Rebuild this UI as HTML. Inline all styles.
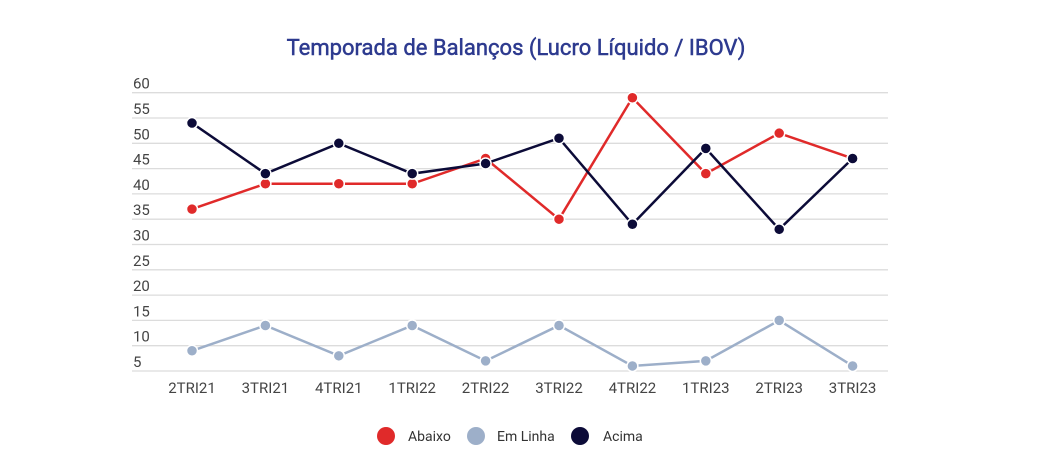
<!DOCTYPE html><html><head><style>body{margin:0;background:#fff}svg{display:block}</style></head><body>
<svg width="1061" height="451" xmlns="http://www.w3.org/2000/svg" font-family="Roboto, 'Liberation Sans', sans-serif">
<text x="516" y="55" text-anchor="middle" font-size="22" fill="#2d3a8f" stroke="#2d3a8f" stroke-width="0.5">Temporada de Balanços (Lucro Líquido / IBOV)</text>
<g id="grid" stroke="#dcdcdc" stroke-width="1.3"></g>
<g id="lab" font-size="15" fill="#444"></g>
<g id="ser"></g>
<g font-size="14" fill="#333">
<circle cx="386" cy="436" r="9" fill="#e02a2a"/><text x="408" y="441">Abaixo</text>
<circle cx="476" cy="436" r="9" fill="#9dafc9"/><text x="497" y="441">Em Linha</text>
<circle cx="580" cy="436" r="9" fill="#0c0b38"/><text x="603" y="441">Acima</text>
</g>
<script>
var NS="http://www.w3.org/2000/svg";function el(p,t,a,tx){var e=document.createElementNS(NS,t);for(var k in a)e.setAttribute(k,a[k]);if(tx)e.textContent=tx;p.appendChild(e);return e}
function Y(v){return 92.7+(60-v)*5.06}
var g=document.getElementById('grid'),l=document.getElementById('lab'),s=document.getElementById('ser');
for(var v=60;v>=5;v-=5){el(g,'line',{x1:132,x2:888,y1:Y(v),y2:Y(v)});el(l,'text',{x:133,y:Y(v)-4},String(v))}
var cats=['2TRI21','3TRI21','4TRI21','1TRI22','2TRI22','3TRI22','4TRI22','1TRI23','2TRI23','3TRI23'];
function X(i){return 192+i*73.4}
cats.forEach(function(c,i){el(l,'text',{x:X(i),y:393,'text-anchor':'middle'},c)});
var S=[['#9dafc9',[9,14,8,14,7,14,6,7,15,6]],['#e02a2a',[37,42,42,42,47,35,59,44,52,47]],['#0c0b38',[54,44,50,44,46,51,34,49,33,47]]];
S.forEach(function(d){var pts=d[1].map(function(v,i){return X(i)+','+Y(v)}).join(' ');
el(s,'polyline',{points:pts,fill:'none',stroke:d[0],'stroke-width':2.5});
d[1].forEach(function(v,i){el(s,'circle',{cx:X(i),cy:Y(v),r:5.5,fill:d[0],stroke:'#fff','stroke-width':1.5})})});
</script>
</svg></body></html>
